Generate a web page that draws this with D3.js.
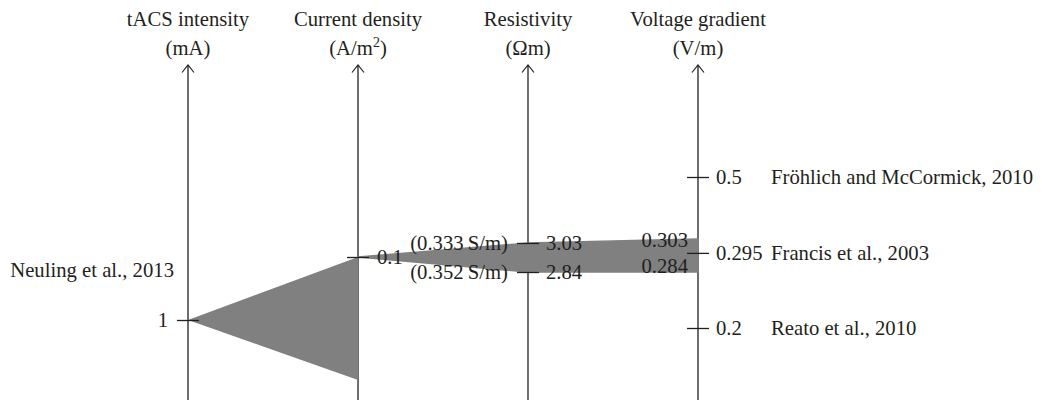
<!DOCTYPE html>
<html>
<head>
<meta charset="utf-8">
<script src="https://cdn.jsdelivr.net/npm/d3@7"></script>
<style>
  html, body { margin: 0; padding: 0; background: #ffffff; }
  svg { display: block; }
  text { font-family: "Liberation Serif", "Times New Roman", serif; fill: #231f20; }
</style>
</head>
<body>
<svg id="chart" width="1042" height="400"></svg>
<script>
// ---- data ----
const axisNames = ["tACS intensity", "Current density", "Resistivity", "Voltage gradient"];
const axisUnits = ["(mA)", "(A/m^2)", "(\u03A9m)", "(V/m)"];

const tacsTicks = [1];
const currentTicks = [0.1];
const resistivityTicks = [3.03, 2.84];
const conductivityLabels = ["(0.333\u2009S/m)", "(0.352\u2009S/m)"];
const voltageTicks = [0.5, 0.295, 0.2];
const voltageRefs = ["Fr\u00F6hlich and McCormick, 2010", "Francis et al., 2003", "Reato et al., 2010"];
const voltageBand = [0.303, 0.284];
const neulingLabel = "Neuling et al., 2013";

// spread: tACS intensity -> current density (top, bottom)
const spreadTacs = 1;
const spreadCurrent = [0.1, 0];
// ribbon: current density -> resistivity -> voltage gradient (top, bottom)
const ribbonCurrent = [0.1, 0.1];
const ribbonResistivity = [3.03, 2.84];
const ribbonVoltage = [0.303, 0.284];

// ---- layout ----
const svg = d3.select("#chart");
const FONT = 20.7;
const axisTop = 65, axisBottom = 400;

const x = d3.scalePoint().domain(axisNames).range([188, 698]);
const yT = d3.scaleLinear().domain([0, 1]).range([440, 320]);
const yC = d3.scaleLinear().domain([0, 0.1]).range([380, 257]);
const yR = d3.scaleLinear().domain([2.84, 3.03]).range([272, 243]);
const yV = d3.scaleLinear().domain([0.2, 0.284, 0.303, 0.5]).range([328, 272, 239, 177]);

const gray = "#808080";
const ink = "#231f20";

// headers
axisNames.forEach((name, i) => {
  svg.append("text")
    .attr("x", x(name)).attr("y", 26)
    .attr("text-anchor", "middle")
    .attr("font-size", FONT)
    .text(name);
  const u = axisUnits[i];
  const t = svg.append("text")
    .attr("x", x(name)).attr("y", 55)
    .attr("text-anchor", "middle")
    .attr("font-size", FONT);
  if (u.includes("^")) {
    const [a, rest] = u.split("^");
    t.append("tspan").text(a);
    t.append("tspan").attr("font-size", 14).attr("dy", -8).text(rest[0]);
    t.append("tspan").attr("dy", 8).text(rest.slice(1));
  } else {
    t.text(u);
  }
});

// axis lines with open arrowheads
axisNames.forEach(name => {
  const ax = x(name);
  svg.append("line")
    .attr("x1", ax).attr("x2", ax)
    .attr("y1", axisTop).attr("y2", axisBottom)
    .attr("stroke", ink).attr("stroke-width", 1.3);
  svg.append("path")
    .attr("d", `M${ax - 6},${axisTop + 7.5}L${ax},${axisTop}L${ax + 6},${axisTop + 7.5}`)
    .attr("fill", "none").attr("stroke", ink).attr("stroke-width", 1.2);
});

// gray spread triangle
const spread = [
  { ax: axisNames[0], y0: yT(spreadTacs), y1: yT(spreadTacs) },
  { ax: axisNames[1], y0: yC(spreadCurrent[1]), y1: yC(spreadCurrent[0]) }
];
svg.append("path")
  .datum(spread)
  .attr("d", d3.area().x(d => x(d.ax)).y0(d => d.y0).y1(d => d.y1))
  .attr("fill", gray);

// gray ribbon
const ribbon = [
  { ax: axisNames[1], y0: yC(ribbonCurrent[1]), y1: yC(ribbonCurrent[0]) },
  { ax: axisNames[2], y0: yR(ribbonResistivity[1]), y1: yR(ribbonResistivity[0]) },
  { ax: axisNames[3], y0: yV(ribbonVoltage[1]), y1: yV(ribbonVoltage[0]) }
];
svg.append("path")
  .datum(ribbon)
  .attr("d", d3.area().x(d => x(d.ax)).y0(d => d.y0).y1(d => d.y1))
  .attr("fill", gray)
  .attr("stroke", gray).attr("stroke-width", 1.5).attr("stroke-linejoin", "round");

// ticks via d3 axes (cross-style ticks)
function styleAxis(g) {
  g.select(".domain").remove();
  g.attr("font-family", null).attr("font-size", null);
  g.selectAll(".tick line").attr("x1", -11).attr("x2", 11)
    .attr("stroke", ink).attr("stroke-width", 1.3);
  g.selectAll(".tick text").attr("font-size", FONT).attr("fill", ink);
}

svg.append("g")
  .attr("transform", `translate(${x(axisNames[0])},0)`)
  .call(d3.axisLeft(yT).tickValues(tacsTicks).tickSize(10).tickPadding(10).tickFormat(d3.format("")))
  .call(styleAxis);

svg.append("g")
  .attr("transform", `translate(${x(axisNames[1])},0)`)
  .call(d3.axisRight(yC).tickValues(currentTicks).tickSize(11).tickPadding(8).tickFormat(d3.format("")))
  .call(styleAxis);

svg.append("g")
  .attr("transform", `translate(${x(axisNames[2])},0)`)
  .call(d3.axisRight(yR).tickValues(resistivityTicks).tickSize(11).tickPadding(7).tickFormat(d3.format("")))
  .call(styleAxis);

svg.append("g")
  .attr("transform", `translate(${x(axisNames[3])},0)`)
  .call(d3.axisRight(yV).tickValues(voltageTicks).tickSize(11).tickPadding(7).tickFormat(d3.format("")))
  .call(styleAxis);

// conductivity labels left of resistivity axis
resistivityTicks.forEach((v, i) => {
  svg.append("text")
    .attr("x", x(axisNames[2]) - 20).attr("y", yR(v))
    .attr("dy", "0.32em")
    .attr("text-anchor", "end")
    .attr("font-size", FONT)
    .text(conductivityLabels[i]);
});

// band edge labels left of voltage axis
svg.append("text")
  .attr("x", x(axisNames[3]) - 10).attr("y", yV(voltageBand[0]) + 8)
  .attr("text-anchor", "end").attr("font-size", FONT)
  .text(d3.format("")(voltageBand[0]));
svg.append("text")
  .attr("x", x(axisNames[3]) - 10).attr("y", yV(voltageBand[1]) + 1)
  .attr("text-anchor", "end").attr("font-size", FONT)
  .text(d3.format("")(voltageBand[1]));

// references right of voltage ticks
voltageTicks.forEach((v, i) => {
  svg.append("text")
    .attr("x", x(axisNames[3]) + 73).attr("y", yV(v))
    .attr("dy", "0.32em")
    .attr("font-size", FONT)
    .text(voltageRefs[i]);
});

// Neuling label
svg.append("text")
  .attr("x", x(axisNames[0]) - 14).attr("y", yT(tacsTicks[0]) - 43)
  .attr("text-anchor", "end")
  .attr("font-size", FONT)
  .text(neulingLabel);
</script>
</body>
</html>
